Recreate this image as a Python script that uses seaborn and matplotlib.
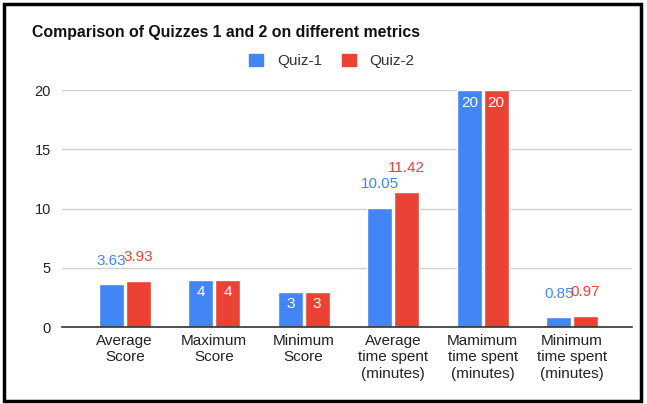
import pandas as pd
import matplotlib
matplotlib.use('Agg')
import matplotlib.pyplot as plt
import matplotlib.patches as mpatches
import seaborn as sns

# data
metrics = ['Average\nScore', 'Maximum\nScore', 'Minimum\nScore',
           'Average\ntime spent\n(minutes)', 'Mamimum\ntime spent\n(minutes)',
           'Minimum\ntime spent\n(minutes)']
quiz1 = [3.63, 4, 3, 10.05, 20, 0.85]
quiz2 = [3.93, 4, 3, 11.42, 20, 0.97]
series = ['Quiz-1', 'Quiz-2']
colors = ['#4285F4', '#EA4335']

df = pd.DataFrame({
    'Metric': metrics * 2,
    'Value': quiz1 + quiz2,
    'Quiz': [series[0]] * len(metrics) + [series[1]] * len(metrics),
})

sns.set_style('white')
plt.rcParams['font.family'] = ['Liberation Sans', 'DejaVu Sans']

fig = plt.figure(figsize=(6.47, 4.04), dpi=100)
ax = fig.add_axes([0.096, 0.19, 0.881, 0.587])

sns.barplot(data=df, x='Metric', y='Value', hue='Quiz', palette=colors,
            width=0.6, gap=0.07, saturation=1, legend=False, ax=ax)

ax.set_ylim(0, 20)
ax.set_xlim(-0.7, 5.67)
ax.set_yticks([0, 5, 10, 15, 20])
ax.grid(axis='y', color='#d0d0d0', linewidth=1)
ax.set_axisbelow(True)
for s in ['top', 'right', 'left']:
    ax.spines[s].set_visible(False)
ax.spines['bottom'].set_color('#333333')
ax.spines['bottom'].set_linewidth(1.2)
ax.tick_params(axis='both', length=0, labelsize=10.5, colors='#222222')
ax.tick_params(axis='x', pad=5, labelsize=11)
ax.tick_params(axis='y', pad=8)
ax.set_xlabel('')
ax.set_ylabel('')

# value labels: inside (white) when the number fits, above the bar otherwise
for container, color in zip(ax.containers, colors):
    for bar in container:
        v = bar.get_height()
        label = f'{v:g}'
        x = bar.get_x() + bar.get_width() / 2
        if len(label) <= 2 and v >= 2:
            ax.annotate(label, (x, v), xytext=(0, -9), textcoords='offset points',
                        ha='center', va='center', color='white', fontsize=11)
        else:
            ax.annotate(label, (x, v), xytext=(0, 17), textcoords='offset points',
                        ha='center', va='center', color=color, fontsize=11)

fig.text(32 / 647, 1 - 33 / 404, 'Comparison of Quizzes 1 and 2 on different metrics',
         fontsize=11.4, fontweight='bold', va='center', ha='left', color='#111111')

handles = [mpatches.Patch(color=c, label=s) for c, s in zip(colors, series)]
fig.legend(handles=handles, loc='center', bbox_to_anchor=(0.513, 1 - 61 / 404),
           ncol=2, frameon=False, fontsize=11, handlelength=0.9, handleheight=0.9,
           columnspacing=1.3, handletextpad=0.9, labelcolor='#333333')

# black frame around the whole chart
fig.patches.append(mpatches.Rectangle((0.006, 0.008), 0.985, 0.983,
                                      transform=fig.transFigure, fill=False,
                                      edgecolor='black', linewidth=2.5))

fig.savefig('out.png', dpi=100)
